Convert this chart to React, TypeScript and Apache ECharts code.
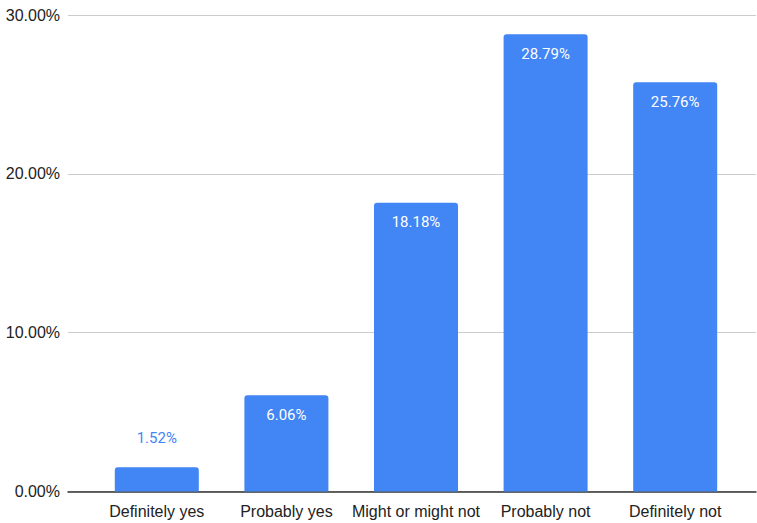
import React, { useEffect, useRef } from "react";
import * as echarts from "echarts";

const categories = ["Definitely yes", "Probably yes", "Might or might not", "Probably not", "Definitely not"];
const values = [1.52, 6.06, 18.18, 28.79, 25.76];
const yTicks = { min: 0, max: 30, interval: 10 };

export default function App() {
  const ref = useRef<HTMLDivElement>(null);
  useEffect(() => {
    if (!ref.current) return;
    const chart = echarts.init(ref.current, null, { renderer: "svg" });
    const fmt = (v: number) => v.toFixed(2) + "%";
    const bottom = 523 - 491.5;
    chart.setOption({
      animation: false,
      grid: [
        { left: 68, right: 1, top: 15, bottom },
        { left: 92, right: 17, top: 15, bottom },
      ],
      xAxis: [
        {
          gridIndex: 0,
          type: "value",
          min: 0,
          max: 1,
          axisLine: { show: true, onZero: false, lineStyle: { color: "#333", width: 1.5 } },
          axisTick: { show: false },
          axisLabel: { show: false },
          splitLine: { show: false },
        },
        {
          gridIndex: 1,
          type: "category",
          data: categories,
          axisLine: { show: false },
          axisTick: { show: false },
          axisLabel: { interval: 0, margin: 12, fontSize: 16, color: "#222", fontFamily: "Liberation Sans, Arial, sans-serif" },
        },
      ],
      yAxis: [
        {
          gridIndex: 0,
          type: "value",
          min: yTicks.min,
          max: yTicks.max,
          interval: yTicks.interval,
          axisLine: { show: false },
          axisTick: { show: false },
          axisLabel: { formatter: fmt, margin: 8, fontSize: 16, color: "#222", fontFamily: "Liberation Sans, Arial, sans-serif" },
          splitLine: { lineStyle: { color: "#cccccc", width: 1 } },
        },
        {
          gridIndex: 1,
          type: "value",
          min: yTicks.min,
          max: yTicks.max,
          show: false,
        },
      ],
      series: [
        {
          type: "bar",
          xAxisIndex: 1,
          yAxisIndex: 1,
          barWidth: 84,
          itemStyle: { color: "#4285F4", borderRadius: [3, 3, 0, 0] },
          label: {
            show: true,
            position: "insideTop",
            distance: 12,
            color: "#ffffff",
            fontSize: 15,
            fontFamily: "Roboto, sans-serif",
            formatter: (p: any) => fmt(p.value),
          },
          data: values.map((v, i) =>
            i === 0
              ? { value: v, label: { position: "top", distance: 22, color: "#4285F4" } }
              : v
          ),
        },
      ],
    });
    return () => chart.dispose();
  }, []);
  return <div ref={ref} style={{ position: "fixed", left: 0, top: 0, width: 757, height: 523, background: "#fff" }} />;
}
